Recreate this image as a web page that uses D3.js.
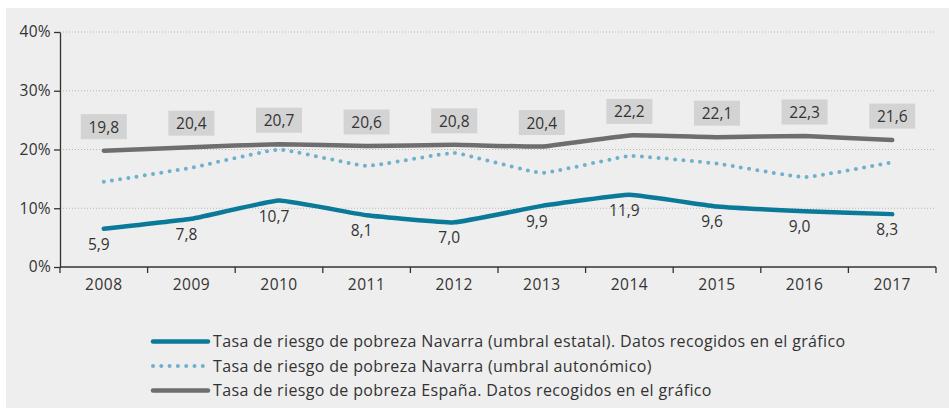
<!DOCTYPE html>
<html>
<head>
<meta charset="utf-8">
<script src="https://cdn.jsdelivr.net/npm/d3@7"></script>
<style>
  body { margin: 0; background: #fff; }
  svg text { font-family: "Open Sans", Lato, sans-serif; fill: #333; }
</style>
</head>
<body>
<svg id="chart" width="949" height="408"></svg>
<script>
// Data
var years = ["2008", "2009", "2010", "2011", "2012", "2013", "2014", "2015", "2016", "2017"];
// Navarra, umbral estatal (line as drawn) and its printed labels
var navarraEstatal = [6.5, 8.2, 11.3, 8.8, 7.6, 10.4, 12.3, 10.3, 9.5, 9.0];
var navarraEstatalLabels = ["5,9", "7,8", "10,7", "8,1", "7,0", "9,9", "11,9", "9,6", "9,0", "8,3"];
// Navarra, umbral autonómico
var navarraAuto = [14.5, 16.9, 20.0, 17.2, 19.4, 16.0, 18.9, 17.6, 15.3, 17.8];
// España
var espana = [19.8, 20.4, 20.9, 20.6, 20.8, 20.5, 22.4, 22.1, 22.3, 21.6];
var espanaLabels = ["19,8", "20,4", "20,7", "20,6", "20,8", "20,4", "22,2", "22,1", "22,3", "21,6"];
var yTicks = [0, 10, 20, 30, 40];
var legendLabels = [
  "Tasa de riesgo de pobreza Navarra (umbral estatal). Datos recogidos en el gráfico",
  "Tasa de riesgo de pobreza Navarra (umbral autonómico)",
  "Tasa de riesgo de pobreza España. Datos recogidos en el gráfico"
];

var teal = "#0a7a98", lightBlue = "#6fb0cc", grey = "#6e6e70";

var svg = d3.select("#chart");

// background panel
svg.append("rect")
    .attr("x", 6).attr("y", 8)
    .attr("width", 943).attr("height", 400)
    .attr("fill", "#eeeeee");

var x = d3.scaleBand().domain(years).range([60, 936]);
var y = d3.scaleLinear().domain([0, 40]).range([267, 32]);
var cx = function(i) { return x(years[i]) + x.bandwidth() / 2; };

// gridlines
svg.append("g").selectAll("line")
    .data(yTicks.filter(function(d) { return d > 0; }))
    .join("line")
    .attr("x1", 60).attr("x2", 936)
    .attr("y1", function(d) { return y(d); })
    .attr("y2", function(d) { return y(d); })
    .attr("stroke", "#b8b8b8")
    .attr("stroke-width", 1)
    .attr("stroke-dasharray", "1,2");

// y axis
var yAxis = svg.append("g")
    .attr("transform", "translate(60,0)")
    .call(d3.axisLeft(y).tickValues(yTicks).tickSize(6).tickSizeOuter(0)
        .tickFormat(function(d) { return d + "%"; }));
yAxis.select(".domain").attr("stroke", "#333").attr("stroke-width", 1.3);
yAxis.selectAll(".tick line").attr("stroke", "#333").attr("stroke-width", 1.3);
yAxis.selectAll("text").attr("font-size", 15.5).attr("x", -9).attr("fill", "#333")
    .attr("letter-spacing", 0.3)
    .attr("font-family", "'Open Sans', sans-serif");

// x axis with ticks on band edges
var xAxis = svg.append("g").attr("transform", "translate(0,267)");
xAxis.append("line").attr("x1", 60).attr("x2", 936)
    .attr("stroke", "#333").attr("stroke-width", 1.3);
var edges = years.map(function(d) { return x(d); }).concat([x.range()[1]]);
xAxis.selectAll(".edge").data(edges).join("line")
    .attr("class", "edge")
    .attr("x1", function(d) { return d; }).attr("x2", function(d) { return d; })
    .attr("y1", 0).attr("y2", 6)
    .attr("stroke", "#333").attr("stroke-width", 1.3);
xAxis.selectAll(".yr").data(years).join("text")
    .attr("class", "yr")
    .attr("x", function(d) { return x(d) + x.bandwidth() / 2; })
    .attr("y", 23)
    .attr("text-anchor", "middle")
    .attr("font-size", 15.5)
    .attr("letter-spacing", 0.5)
    .text(function(d) { return d; });

// lines
var line = d3.line()
    .x(function(d, i) { return cx(i); })
    .y(function(d) { return y(d); })
    .curve(d3.curveCardinal.tension(0.7));

svg.append("path").datum(navarraAuto)
    .attr("d", line).attr("fill", "none")
    .attr("stroke", lightBlue).attr("stroke-width", 4)
    .attr("stroke-linecap", "round")
    .attr("stroke-dasharray", "0,8.3");

svg.append("path").datum(espana)
    .attr("d", line).attr("fill", "none")
    .attr("stroke", grey).attr("stroke-width", 4.5)
    .attr("stroke-linecap", "round");

svg.append("path").datum(navarraEstatal)
    .attr("d", line).attr("fill", "none")
    .attr("stroke", teal).attr("stroke-width", 4.5)
    .attr("stroke-linecap", "round");

// España labels in grey boxes
var boxes = svg.append("g").selectAll("g").data(espana).join("g")
    .attr("transform", function(d, i) { return "translate(" + cx(i) + "," + (y(d) - 24) + ")"; });
boxes.append("rect")
    .attr("x", -23).attr("y", -12.5)
    .attr("width", 46).attr("height", 25)
    .attr("fill", "#d3d3d3");
boxes.append("text")
    .attr("text-anchor", "middle")
    .attr("y", 6)
    .attr("font-size", 15.5)
    .text(function(d, i) { return espanaLabels[i]; });

// Navarra labels below the line
svg.append("g").selectAll("text").data(navarraEstatal).join("text")
    .attr("x", function(d, i) { return cx(i) - 5; })
    .attr("y", function(d) { return y(d) + 21; })
    .attr("text-anchor", "middle")
    .attr("font-size", 15.5)
    .text(function(d, i) { return navarraEstatalLabels[i]; });

// legend
var legend = svg.append("g").selectAll("g").data(legendLabels).join("g")
    .attr("transform", function(d, i) { return "translate(152," + (341.5 + i * 24.5) + ")"; });
legend.append("line")
    .attr("x1", 1).attr("x2", 56)
    .attr("stroke", function(d, i) { return [teal, lightBlue, grey][i]; })
    .attr("stroke-width", function(d, i) { return i === 1 ? 4 : 4.5; })
    .attr("stroke-linecap", "round")
    .attr("stroke-dasharray", function(d, i) { return i === 1 ? "0,8.3" : null; });
legend.append("text")
    .attr("x", 61)
    .attr("y", 5.5)
    .attr("font-size", 16)
    .attr("letter-spacing", 0.35)
    .text(function(d) { return d; });
</script>
</body>
</html>
